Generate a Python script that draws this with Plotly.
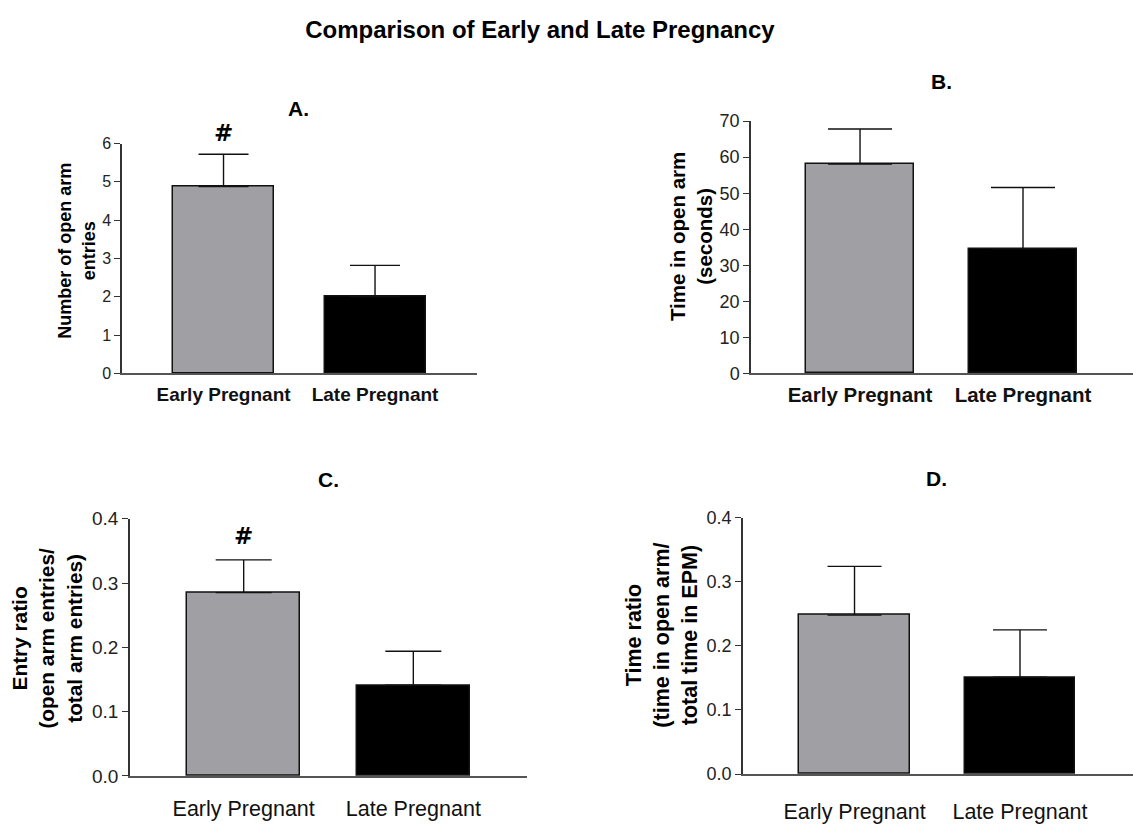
import plotly.graph_objects as go

# Group labels
categories = ["Early Pregnant", "Late Pregnant"]

# A. Number of open arm entries (mean, SEM)
open_arm_entries = [4.88, 2.01]
open_arm_entries_sem = [0.84, 0.81]

# B. Time in open arm, seconds (mean, SEM)
time_open_arm = [58.1, 34.6]
time_open_arm_sem = [9.7, 17.0]

# C. Entry ratio (mean, SEM)
entry_ratio = [0.285, 0.141]
entry_ratio_sem = [0.051, 0.053]

# D. Time ratio (mean, SEM)
time_ratio = [0.248, 0.151]
time_ratio_sem = [0.076, 0.074]

# Significance markers per panel (per group)
sig_a = ["#", ""]
sig_c = ["#", ""]

W, H = 1133, 824
FONT = "Liberation Sans, Arial, Helvetica, sans-serif"
BAR_COLORS = ["#a0a0a4", "#000000"]


def px_x(p):
    return p / W


def px_y(p):
    return 1 - p / H


fig = go.Figure()

panels = [
    dict(ax="", vals=open_arm_entries, sem=open_arm_entries_sem, xd=(122, 477), yd=(373, 137),
         yr=[0, 6], dtick=1, tfs=16, cfs=19, cbold=True, cap=25, xr=[-0.67, 1.673],
         tickfmt=None, standoff=3),
    dict(ax="2", vals=time_open_arm, sem=time_open_arm_sem, xd=(751, 1133), yd=(373, 114),
         yr=[0, 70], dtick=10, tfs=18, cfs=20.5, cbold=True, cap=32, xr=[-0.669, 1.675],
         tickfmt=None, standoff=2),
    dict(ax="3", vals=entry_ratio, sem=entry_ratio_sem, xd=(130, 527), yd=(786, 522),
         yr=[0, 0.4], dtick=0.1, tfs=19, cfs=21.5, cbold=False, cap=28, xr=[-0.67, 1.67],
         tickfmt=".1f", standoff=12),
    dict(ax="4", vals=time_ratio, sem=time_ratio_sem, xd=(743, 1133), yd=(784, 521),
         yr=[0, 0.4], dtick=0.1, tfs=18, cfs=21.5, cbold=False, cap=27, xr=[-0.674, 1.683],
         tickfmt=".1f", standoff=17),
]

for p in panels:
    fig.add_trace(go.Bar(
        x=[0, 1], y=p["vals"], width=0.667,
        marker=dict(color=BAR_COLORS, line=dict(color="#111111", width=1.5)),
        error_y=dict(type="data", array=p["sem"], arrayminus=[0, 0], symmetric=False,
                     color="#111111", thickness=1.4, width=p["cap"]),
        xaxis="x" + p["ax"], yaxis="y" + p["ax"], showlegend=False,
    ))
    xa = dict(
        domain=[px_x(p["xd"][0]), px_x(p["xd"][1])], range=p["xr"],
        anchor="y" + p["ax"], tickmode="array", tickvals=[0, 1], ticktext=categories,
        ticks="", showline=True, linecolor="#555555", linewidth=1.5, showgrid=False,
        zeroline=False, ticklabelstandoff=p["standoff"],
        tickfont=dict(family=FONT, size=p["cfs"], color="#111111",
                      weight="bold" if p["cbold"] else "normal"),
    )
    ya = dict(
        domain=[px_y(p["yd"][0]), px_y(p["yd"][1])], range=p["yr"],
        anchor="x" + p["ax"], dtick=p["dtick"], tick0=0, ticks="outside", ticklen=6,
        tickwidth=1.2, tickcolor="#333333", showline=True, linecolor="#333333",
        linewidth=1.5, showgrid=False, zeroline=False,
        tickfont=dict(family=FONT, size=p["tfs"], color="#222222"),
    )
    if p["tickfmt"]:
        ya["tickformat"] = p["tickfmt"]
    fig.update_layout(**{"xaxis" + p["ax"]: xa, "yaxis" + p["ax"]: ya})

# Significance markers above the error bars
for ax, vals, sem, marks, shift in [("", open_arm_entries, open_arm_entries_sem, sig_a, 6),
                                    ("3", entry_ratio, entry_ratio_sem, sig_c, 9)]:
    for i, m in enumerate(marks):
        if m:
            fig.add_annotation(
                x=i, y=vals[i] + sem[i], xref="x" + ax, yref="y" + ax,
                text=m, showarrow=False, yanchor="bottom", yshift=shift,
                font=dict(family="DejaVu Sans, sans-serif", size=23, color="#000000",
                          weight="bold"),
            )

# Panel letters
for letter, x, y in [("A.", 299, 101), ("B.", 941, 73), ("C.", 328, 482), ("D.", 937, 481)]:
    fig.add_annotation(
        x=px_x(x), y=px_y(y), xref="paper", yref="paper", text=letter, showarrow=False,
        xanchor="center", yanchor="middle",
        font=dict(family=FONT, size=21, color="#000000", weight="bold"),
    )

# Y-axis titles
for text, x, y, size in [
    ("Number of open arm<br>entries", 77, 247, 18),
    ("Time in open arm<br>(seconds)", 691, 233, 20.5),
    ("Entry ratio<br>(open arm entries/<br>total arm entries)", 47, 645, 20.8),
    ("Time ratio<br>(time in open arm/<br>total time in EPM)", 662, 642, 21.5),
]:
    fig.add_annotation(
        x=px_x(x), y=px_y(y), xref="paper", yref="paper", text=text, showarrow=False,
        textangle=-90, xanchor="center", yanchor="middle", align="center",
        font=dict(family=FONT, size=size, color="#000000", weight="bold"),
    )

fig.update_layout(
    width=W, height=H, margin=dict(l=0, r=0, t=0, b=0),
    paper_bgcolor="white", plot_bgcolor="white",
    title=dict(text="Comparison of Early and Late Pregnancy", x=540 / W, xanchor="center",
               y=px_y(30), yanchor="middle",
               font=dict(family=FONT, size=24, color="#000000", weight="bold")),
    bargap=0,
)

fig.write_html("out.html")
